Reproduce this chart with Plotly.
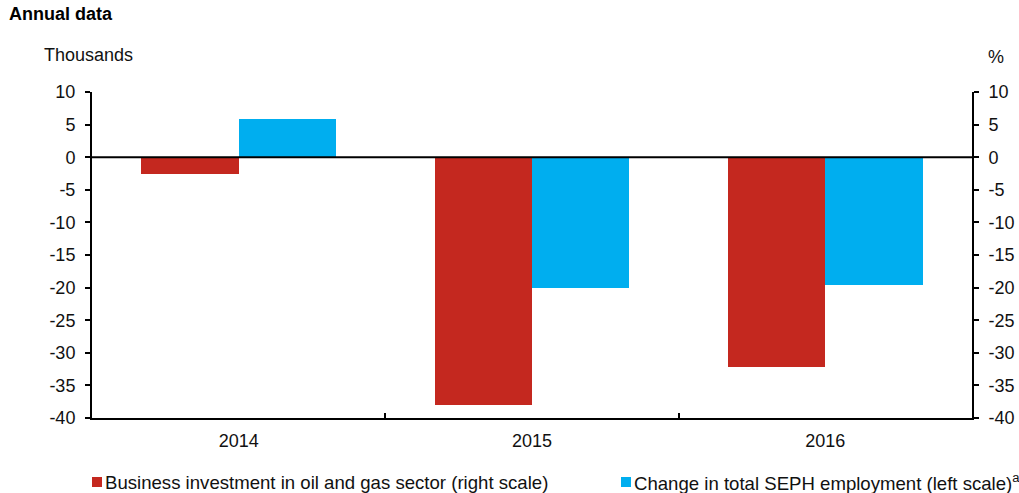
import plotly.graph_objects as go

years = ["2014", "2015", "2016"]
invest_oil_gas = [-2.5, -38.0, -32.2]      # % (right scale)
seph_change = [5.8, -20.0, -19.6]          # thousands (left scale)
series_names = ["Business investment in oil and gas sector (right scale)",
                "Change in total SEPH employment (left scale)<sup>a</sup>"]
colors = ["#C4281F", "#00AEEF"]
yticks = [10, 5, 0, -5, -10, -15, -20, -25, -30, -35, -40]
yticklabels = [str(v) for v in yticks]

FONT = "Liberation Sans, Arial, sans-serif"
FS = 18

fig = go.Figure()
fig.add_trace(go.Bar(x=years, y=invest_oil_gas, name=series_names[0],
                     marker=dict(color=colors[0], line=dict(width=0)),
                     width=0.332, offset=-0.332, yaxis="y2"))
fig.add_trace(go.Bar(x=years, y=seph_change, name=series_names[1],
                     marker=dict(color=colors[1], line=dict(width=0)),
                     width=0.332, offset=0, yaxis="y"))

axis_common = dict(range=[-40, 10], tickmode="array", tickvals=yticks, ticktext=yticklabels,
                   ticks="outside", ticklen=5, ticklabelstandoff=6,
                   tickwidth=1.5, tickcolor="black", showline=True, linecolor="black",
                   linewidth=2, showgrid=False, zeroline=False, automargin=False,
                   tickfont=dict(family=FONT, size=FS, color="#111"))

fig.update_layout(
    width=1019, height=493, autosize=False,
    margin=dict(l=92, r=47, t=92, b=75, autoexpand=False),
    paper_bgcolor="white", plot_bgcolor="white",
    showlegend=False,
    xaxis=dict(type="category", showline=True, linecolor="black", linewidth=2,
               ticks="inside", tickson="boundaries", ticklen=5, tickwidth=1.5,
               tickcolor="black", showgrid=False, ticklabelstandoff=5, automargin=False,
               tickfont=dict(family=FONT, size=FS, color="#111")),
    yaxis=dict(side="left", **axis_common),
    yaxis2=dict(side="right", overlaying="y", **axis_common),
    bargap=0,
)

# zero line across the plot
fig.add_hline(y=0, line=dict(color="black", width=2))

# titles
fig.add_annotation(text="<b>Annual data</b>", xref="paper", yref="paper",
                   x=(7 - 92)/880, y=1 + (92-14)/326, xanchor="left", yanchor="middle",
                   showarrow=False, font=dict(family=FONT, size=18, color="black"))
fig.add_annotation(text="Thousands", xref="paper", yref="paper",
                   x=(42 - 92)/880, y=1 + (92-55)/326, xanchor="left", yanchor="middle",
                   showarrow=False, font=dict(family=FONT, size=FS, color="#111"))
fig.add_annotation(text="%", xref="paper", yref="paper",
                   x=(986 - 92)/880, y=1 + (92-57)/326, xanchor="left", yanchor="middle",
                   showarrow=False, font=dict(family=FONT, size=FS, color="#111"))

# manual legend
leg_y = -(482-418)/326
for nm, col, lx in zip(series_names, colors, [92, 621]):
    fig.add_shape(type="rect", xref="paper", yref="paper",
                  x0=(lx - 92)/880, x1=(lx + 10 - 92)/880,
                  y0=leg_y - 5/326, y1=leg_y + 5/326,
                  fillcolor=col, line=dict(width=0))
    fig.add_annotation(text=nm, xref="paper", yref="paper",
                       x=(lx + 11 - 92)/880, y=leg_y, xanchor="left", yanchor="middle",
                       showarrow=False, font=dict(family=FONT, size=18.6, color="#111"))

fig.write_html("out.html",
               config={"displayModeBar": False, "responsive": False},
               post_script="document.body.style.margin='0';document.body.style.overflow='hidden';")
